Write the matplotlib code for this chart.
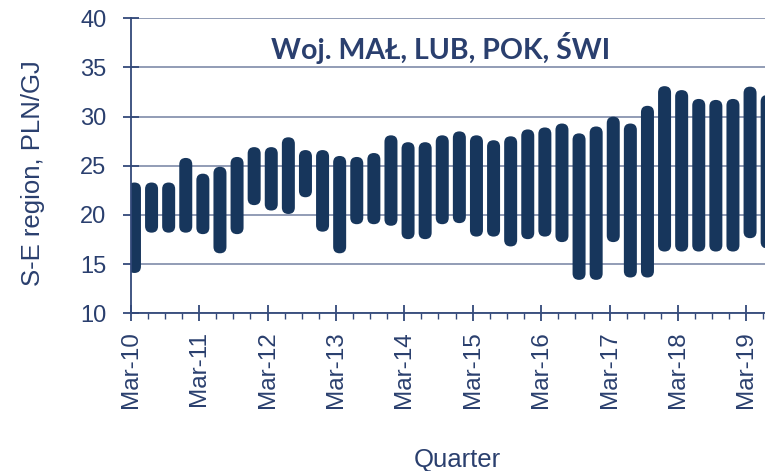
#!/usr/bin/env python3

"""
Quarterly price range (min-max) for the S-E region, drawn as floating bars.
"""
import numpy as np
import matplotlib
matplotlib.use('Agg')
import matplotlib.pyplot as plt
from matplotlib.patches import FancyBboxPatch
from matplotlib.ticker import MultipleLocator, FixedLocator

# quarters Mar-10 .. Jun-19
quarters = ['Mar-10', 'Jun-10', 'Sep-10', 'Dec-10',
            'Mar-11', 'Jun-11', 'Sep-11', 'Dec-11',
            'Mar-12', 'Jun-12', 'Sep-12', 'Dec-12',
            'Mar-13', 'Jun-13', 'Sep-13', 'Dec-13',
            'Mar-14', 'Jun-14', 'Sep-14', 'Dec-14',
            'Mar-15', 'Jun-15', 'Sep-15', 'Dec-15',
            'Mar-16', 'Jun-16', 'Sep-16', 'Dec-16',
            'Mar-17', 'Jun-17', 'Sep-17', 'Dec-17',
            'Mar-18', 'Jun-18', 'Sep-18', 'Dec-18',
            'Mar-19', 'Jun-19']
price_high = [23.3, 23.3, 23.3, 25.8, 24.2, 24.9, 25.9, 26.9, 26.9, 27.9,
              26.6, 26.6, 26.0, 25.9, 26.3, 28.1, 27.4, 27.4, 28.1, 28.5,
              28.1, 27.6, 28.0, 28.7, 28.9, 29.3, 28.3, 29.0, 30.0, 29.3,
              31.1, 33.1, 32.7, 31.8, 31.7, 31.8, 33.05, 32.2]
price_low = [14.1, 18.2, 18.2, 18.2, 18.05, 16.1, 18.05, 21.0, 20.45, 20.1,
             21.8, 18.3, 16.1, 19.06, 19.06, 18.9, 17.54, 17.54, 19.06, 19.17,
             17.8, 17.8, 16.8, 17.54, 17.8, 17.24, 13.4, 13.4, 17.24, 13.64,
             13.64, 16.28, 16.28, 16.28, 16.28, 16.28, 17.64, 16.6]

title = 'Woj. MAŁ, LUB, POK, ŚWI'
ylabel = 'S-E region, PLN/GJ'
xlabel = 'Quarter'

NAVY = '#17365c'
TEXT = '#2a3f6e'
GRID = '#8994b0'
SPINE = '#33497a'


def plot_ranges():
    W, H, DPI = 765, 471, 100
    fig = plt.figure(figsize=(W / DPI, H / DPI), dpi=DPI)
    # axes run past the right edge of the figure, as in the cropped original
    ymin, ymax = 10, 40
    xmax = 38.6
    qpx = 17.1                      # pixels per quarter
    ypx = 295.0 / (ymax - ymin)     # pixels per PLN/GJ
    ax = fig.add_axes([130.7 / W, 1 - 313.3 / H, xmax * qpx / W, 295.0 / H])

    # floating bars with rounded ends (filled patches, so the cut-off
    # last bar at the right edge still gets drawn)
    w = 13 / qpx
    aspect = qpx / ypx
    x = np.arange(len(quarters)) + 0.22
    for xi, lo, hi in zip(x, price_low, price_high):
        ax.add_patch(FancyBboxPatch(
            (xi - w / 2, lo), w, hi - lo,
            boxstyle='round,pad=0,rounding_size=%.4f' % (w / 2 * 0.999),
            mutation_aspect=aspect, fc=NAVY, ec='none', zorder=3))

    ax.set_xlim(0, xmax)
    ax.set_ylim(ymin, ymax)

    # axes cosmetics
    ax.yaxis.set_major_locator(MultipleLocator(5))
    ax.xaxis.set_major_locator(FixedLocator(range(0, len(quarters), 4)))
    ax.xaxis.set_minor_locator(MultipleLocator(1))
    ax.set_xticklabels(quarters[::4], rotation=90, va='top', ha='center')
    ax.grid(axis='y', color=GRID, linewidth=1.3, zorder=1)
    for s in ['top', 'right']:
        ax.spines[s].set_visible(False)
    for s in ['left', 'bottom']:
        ax.spines[s].set_color(SPINE)
        ax.spines[s].set_linewidth(1.3)
        ax.spines[s].set_zorder(4)
    ax.tick_params(axis='x', which='major', direction='inout', length=11.5,
                   width=1.3, color=SPINE, pad=7, labelsize=17.5,
                   labelcolor=TEXT)
    ax.tick_params(axis='x', which='minor', direction='out', length=4,
                   width=1.0, color=SPINE)
    ax.tick_params(axis='y', which='major', direction='inout', length=12,
                   width=1.3, color=SPINE, pad=11.5, labelsize=17,
                   labelcolor=TEXT)
    for lab in ax.get_xticklabels() + ax.get_yticklabels():
        lab.set_fontfamily('Liberation Sans')

    fig.text(441 / W, 1 - 48 / H, title, ha='center', va='center',
             fontsize=20.5, fontweight='bold', family='Lato', color=TEXT)
    fig.text(33 / W, 1 - 173.5 / H, ylabel, rotation=90, ha='center',
             va='center', fontsize=18.5, family='Liberation Sans', color=TEXT)
    fig.text(457 / W, 1 - 467 / H, xlabel, ha='center', va='baseline',
             fontsize=18.5, family='Liberation Sans', color=TEXT)

    fig.savefig('out.png', dpi=DPI)


if __name__ == '__main__':
    plot_ranges()
